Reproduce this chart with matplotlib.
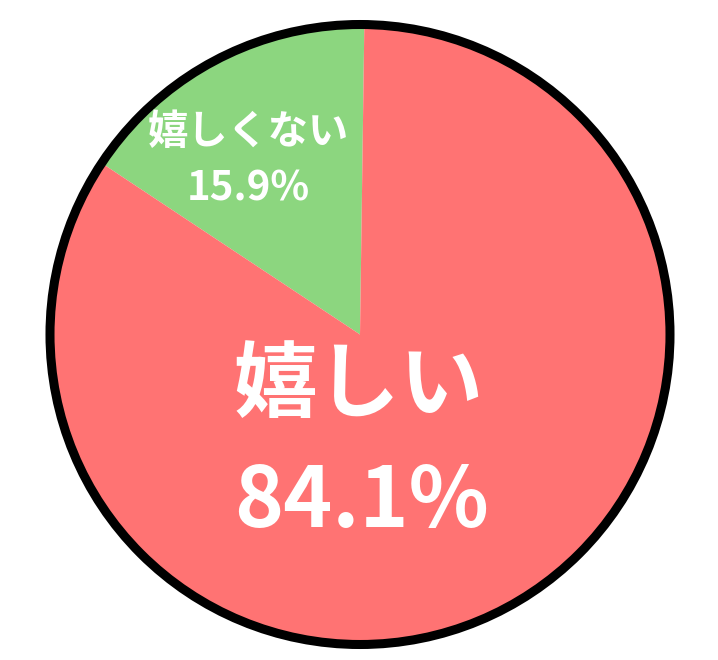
import matplotlib.pyplot as plt
from matplotlib.patches import Circle

plt.rcParams['font.family'] = ['Noto Sans CJK JP', 'DejaVu Sans']

# Data
labels = ['嬉しくない', '嬉しい']
shares = [15.9, 84.1]
colors = ['#8cd67f', '#ff7373']

W, H = 718, 660
cx, cy, r = 360, H - 334.5, 310

fig = plt.figure(figsize=(W / 100, H / 100), dpi=100)
ax = fig.add_axes([0, 0, 1, 1])
ax.set_xlim(0, W)
ax.set_ylim(0, H)
ax.set_aspect('equal')
ax.axis('off')

ax.pie(shares, colors=colors, startangle=89.2, counterclock=True,
       center=(cx, cy), radius=r, frame=True,
       wedgeprops=dict(linewidth=0))
ax.set_xlim(0, W)
ax.set_ylim(0, H)
ax.axis('off')

# outer black ring
ax.add_patch(Circle((cx, cy), r, fill=False, edgecolor='black', linewidth=6.5))

# labels
ax.text(248, H - 133, labels[0], color='white', fontsize=29, fontweight='bold',
        ha='center', va='center')
ax.text(248, H - 189, f'{shares[0]}%', color='white', fontsize=29, fontweight='bold',
        ha='center', va='center')
ax.text(359, H - 387, labels[1], color='white', fontsize=60, fontweight='bold',
        ha='center', va='center')
ax.text(361, H - 503, f'{shares[1]}%', color='white', fontsize=60, fontweight='bold',
        ha='center', va='center')

fig.savefig('out.png', dpi=100)
